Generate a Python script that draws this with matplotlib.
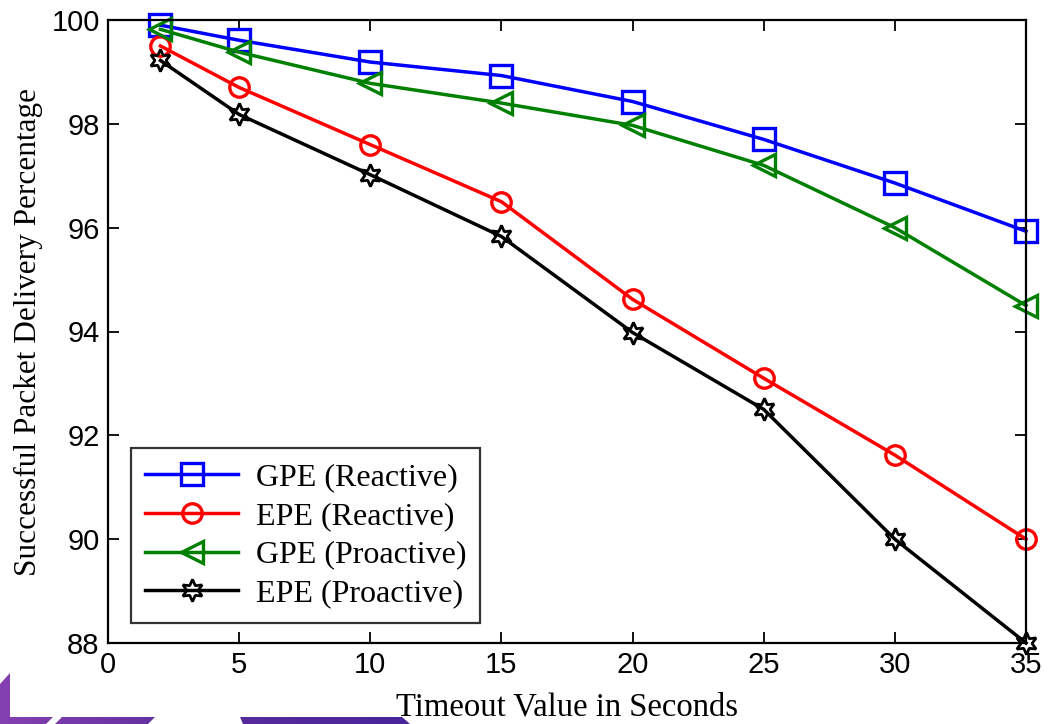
import numpy as np
import matplotlib
matplotlib.use("Agg")
import matplotlib.pyplot as plt
from matplotlib.patches import Polygon
from matplotlib.colors import LinearSegmentedColormap

# Timeout values (s) and delivery percentages per scheme
timeout = [2, 5, 10, 15, 20, 25, 30, 35]
gpe_reactive = [99.90, 99.61, 99.19, 98.93, 98.43, 97.70, 96.86, 95.93]
epe_reactive = [99.50, 98.70, 97.60, 96.50, 94.62, 93.10, 91.62, 90.00]
gpe_proactive = [99.82, 99.38, 98.78, 98.40, 97.97, 97.20, 96.00, 94.50]
epe_proactive = [99.22, 98.18, 97.02, 95.83, 93.98, 92.50, 90.00, 88.00]

series_labels = ["GPE (Reactive)", "EPE (Reactive)", "GPE (Proactive)", "EPE (Proactive)"]
x_ticks = [0, 5, 10, 15, 20, 25, 30, 35]
y_ticks = [88, 90, 92, 94, 96, 98, 100]

W, H = 1048, 724
fig = plt.figure(figsize=(W / 100, H / 100), dpi=100)
fig.patch.set_facecolor("white")

# decorative violet band along the lower-left edge (pixel coordinates)
band = fig.add_axes([0, 0, 1, 1], zorder=0)
band.set_xlim(0, W)
band.set_ylim(H, 0)
band.axis("off")
grad = np.linspace(0, 1, 256).reshape(1, -1)
cmap = LinearSegmentedColormap.from_list("violet", ["#8440b0", "#5a2c9c", "#47249a"])
shapes = [
    [(0, 684), (10, 673), (10, 717), (53, 717), (46, 724), (0, 724)],
    [(62, 717), (155, 717), (148, 724), (55, 724)],
    [(240, 717), (402, 717), (410, 724), (243, 724)],
]
for pts in shapes:
    poly = Polygon(pts, closed=True, facecolor="none", edgecolor="none")
    band.add_patch(poly)
    im = band.imshow(grad, cmap=cmap, extent=[0, 420, 724, 670], aspect="auto", zorder=0)
    im.set_clip_path(poly)

ax = fig.add_axes([108 / W, 1 - 643 / H, (1026 - 108) / W, (643 - 20) / H], zorder=2)
ax.set_facecolor("white")

lw = 2.5
ax.plot(timeout, gpe_reactive, color="#0000ff", lw=lw, marker="s", ms=15.5,
        mfc="none", mew=2.4, clip_on=False, label=series_labels[0])
ax.plot(timeout, epe_reactive, color="#ff0000", lw=lw, marker="o", ms=14,
        mfc="none", mew=2.4, clip_on=False, label=series_labels[1])
ax.plot(timeout, gpe_proactive, color="#008000", lw=lw, marker="<", ms=15.5,
        mfc="none", mew=2.4, clip_on=False, label=series_labels[2])
ax.plot(timeout, epe_proactive, color="#000000", lw=lw, marker=(6, 1, 0), ms=16,
        mfc="none", mew=2.0, clip_on=False, label=series_labels[3])

ax.set_xlim(0, 35)
ax.set_ylim(88, 100)
ax.set_xticks(x_ticks)
ax.set_yticks(y_ticks)

tick_font = {"family": "Liberation Sans", "size": 21}
ax.set_xticklabels([str(v) for v in x_ticks], fontdict=tick_font)
ax.set_yticklabels([str(v) for v in y_ticks], fontdict=tick_font)
ax.tick_params(direction="in", length=8, width=1.3, top=True, right=True, pad=6)
for s in ax.spines.values():
    s.set_linewidth(1.6)

ax.set_xlabel("Timeout Value in Seconds",
              fontdict={"family": "Liberation Serif", "size": 23.5}, labelpad=9)
ax.set_ylabel("Successful Packet Delivery Percentage",
              fontdict={"family": "Liberation Serif", "size": 22.5}, labelpad=6)

leg = ax.legend(loc="lower left", bbox_to_anchor=(23 / 918, 20 / 623),
                prop={"family": "Liberation Serif", "size": 23},
                frameon=True, fancybox=False, handlelength=2.9,
                borderpad=0.45, labelspacing=0.3, handletextpad=0.55,
                borderaxespad=0)
leg.get_frame().set_edgecolor("black")
leg.get_frame().set_linewidth(1.6)

fig.savefig("out.png", dpi=100, facecolor="white")
